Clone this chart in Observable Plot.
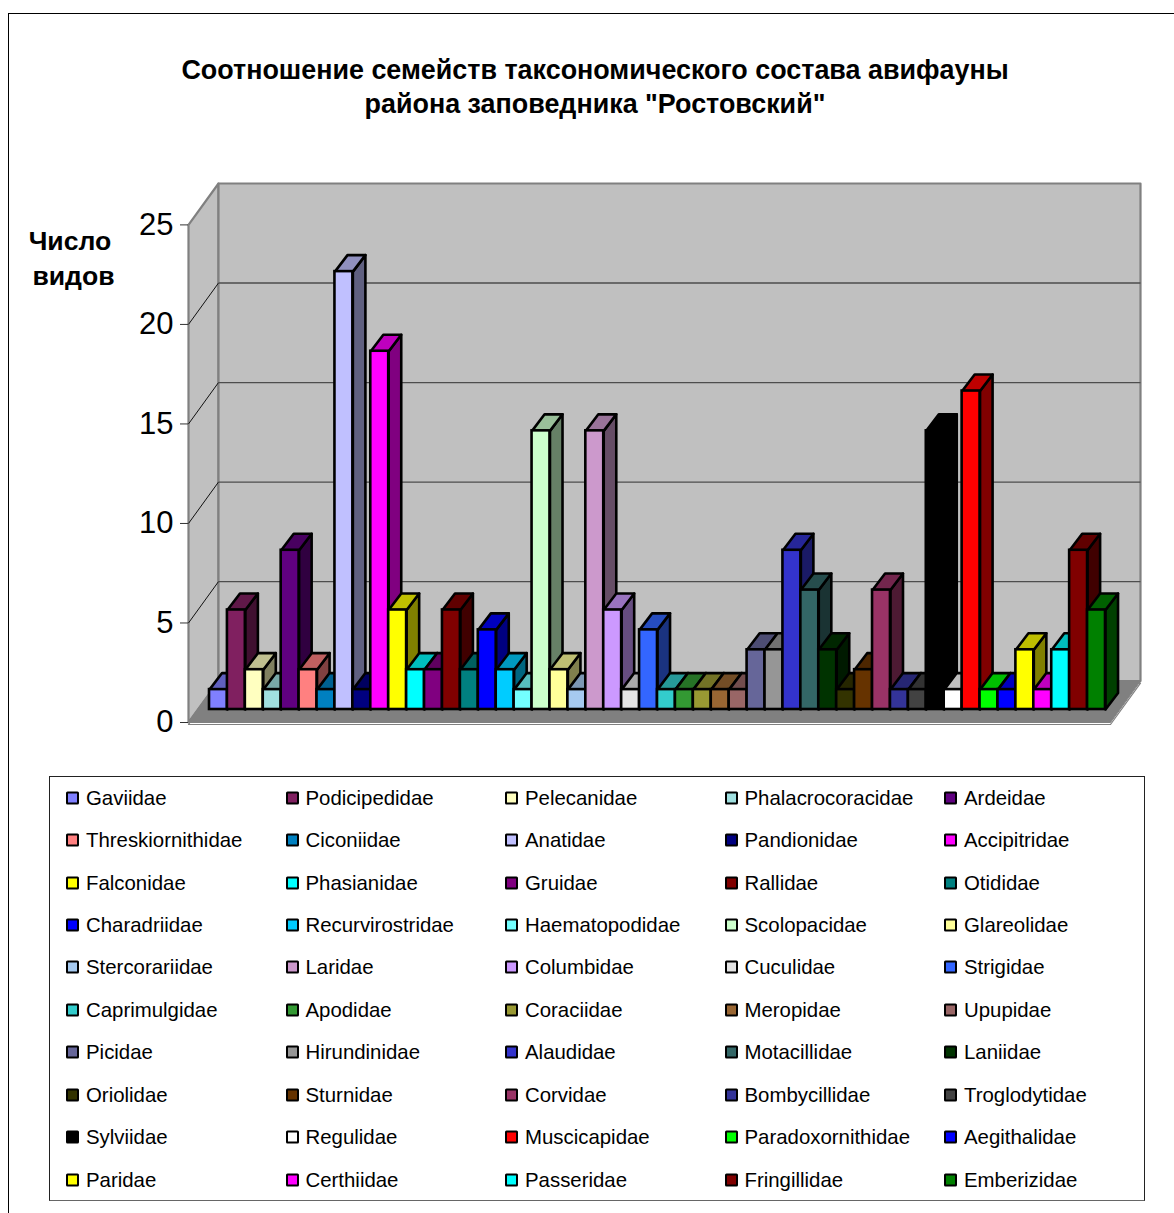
<!DOCTYPE html>
<html lang="ru">
<head>
<meta charset="utf-8">
<title>Авифауна заповедника Ростовский</title>
<script src="https://cdn.jsdelivr.net/npm/d3@7"></script>
<script src="https://cdn.jsdelivr.net/npm/@observablehq/plot@0.6"></script>
<style>
  html, body { margin: 0; padding: 0; background: #fff; overflow: hidden; }
  body { width: 1174px; height: 1213px; position: relative; font-family: "Liberation Sans", Arial, sans-serif; color: #000; }
  #frame { position: absolute; left: 8px; top: 13px; right: -4px; bottom: -4px; border: 1.5px solid #000; }
  #chart { position: absolute; left: 0; top: 0; }
  #title { position: absolute; left: 8px; width: 1174px; top: 53px; margin: 0; font-size: 26.9px; line-height: 34px; font-weight: bold; text-align: center; }
  #legend { position: absolute; left: 49px; top: 776px; width: 1094px; height: 423px; border: 1px solid #222; border-bottom-color: #666; border-bottom-width: 1.5px; box-sizing: content-box;
            display: grid; grid-template-columns: repeat(5, 219.5px); grid-auto-rows: 42.45px; padding: 0; }
  .item { display: flex; align-items: center; font-size: 20.4px; white-space: nowrap; padding-left: 16px; }
  .swatch { width: 9px; height: 9px; border: 2.4px solid #000; border-radius: 1.5px; margin-right: 7px; flex: none; transform: translateY(-0.5px); }
</style>
</head>
<body>
<div id="frame"></div>
<h1 id="title">Соотношение семейств таксономического состава авифауны<br>района заповедника "Ростовский"</h1>
<div id="chart"></div>
<div id="legend"></div>
<script>
// Bird families of the reserve area, in table order
const families = [
  "Gaviidae", "Podicipedidae", "Pelecanidae", "Phalacrocoracidae", "Ardeidae",
  "Threskiornithidae", "Ciconiidae", "Anatidae", "Pandionidae", "Accipitridae",
  "Falconidae", "Phasianidae", "Gruidae", "Rallidae", "Otididae",
  "Charadriidae", "Recurvirostridae", "Haematopodidae", "Scolopacidae", "Glareolidae",
  "Stercorariidae", "Laridae", "Columbidae", "Cuculidae", "Strigidae",
  "Caprimulgidae", "Apodidae", "Coraciidae", "Meropidae", "Upupidae",
  "Picidae", "Hirundinidae", "Alaudidae", "Motacillidae", "Laniidae",
  "Oriolidae", "Sturnidae", "Corvidae", "Bombycillidae", "Troglodytidae",
  "Sylviidae", "Regulidae", "Muscicapidae", "Paradoxornithidae", "Aegithalidae",
  "Paridae", "Certhiidae", "Passeridae", "Fringillidae", "Emberizidae"
];

// Number of species per family
const speciesCounts = [
  1, 5, 2, 1, 8,
  2, 1, 22, 1, 18,
  5, 2, 2, 5, 2,
  4, 2, 1, 14, 2,
  1, 14, 5, 1, 4,
  1, 1, 1, 1, 1,
  3, 3, 8, 6, 3,
  1, 2, 6, 1, 1,
  14, 1, 16, 1, 1,
  3, 1, 3, 8, 5
];

// Front-face colour of each family's column
const familyColors = [
  "#8080FF", "#802060", "#FFFFC0", "#A0E0E0", "#600080",
  "#FF8080", "#0080C0", "#C0C0FF", "#000080", "#FF00FF",
  "#FFFF00", "#00FFFF", "#800080", "#800000", "#008080",
  "#0000FF", "#00CCFF", "#73FFFF", "#CCFFCC", "#FFFF99",
  "#A6CAF0", "#CC99CC", "#CC99FF", "#E3E3E3", "#3366FF",
  "#33CCCC", "#339933", "#999933", "#996633", "#996666",
  "#666699", "#969696", "#3333CC", "#336666", "#003300",
  "#333300", "#663300", "#993366", "#333399", "#424242",
  "#000000", "#FFFFFF", "#FF0000", "#00FF00", "#0000FF",
  "#FFFF00", "#FF00FF", "#00FFFF", "#800000", "#008000"
];

const yTicks = [0, 5, 10, 15, 20, 25];

// Oblique projection, in data units: how far one column's depth and the
// whole floor's depth shift a point sideways (x) and upward (y).
const columnDepth = {x: 0.70, y: 0.83};
const floorDepth = {x: 1.674, y: 2.08};
// Front-left corner of the floor and right end of its front edge
const floorFront = {x0: -1.172, x1: 50.28, y: -0.653};

const shade = (color, k) => {
  const c = d3.rgb(color);
  return d3.rgb(c.r * k, c.g * k, c.b * k).formatHex();
};

const columns = families.map((family, i) => ({
  family, i, value: speciesCounts[i], color: familyColors[i]
}));

// Side and top faces of the columns as closed polygons
const faces = columns.flatMap(({i, value, color}) => {
  const {x: dx, y: dy} = columnDepth;
  const side = [[i + 1, 0], [i + 1 + dx, dy], [i + 1 + dx, value + dy], [i + 1, value]];
  const top = [[i, value], [i + dx, value + dy], [i + 1 + dx, value + dy], [i + 1, value]];
  return [
    ...side.map(([x, y]) => ({x, y, id: `${i}-side`, fill: shade(color, 0.5)})),
    ...top.map(([x, y]) => ({x, y, id: `${i}-top`, fill: shade(color, 0.75)}))
  ];
});

const {x0, x1, y: yFloor} = floorFront;
const backX0 = x0 + floorDepth.x;
const backX1 = x1 + floorDepth.x;
const backY = yFloor + floorDepth.y;
const yTop = 25 + backY;

const backWall = [[backX0, backY], [backX1, backY], [backX1, yTop], [backX0, yTop]];
const sideWall = [[x0, yFloor], [backX0, backY], [backX0, yTop], [x0, 25 + yFloor]];
const floor = [[x0, yFloor], [x1, yFloor], [backX1, backY], [backX0, backY]];
const toPoints = (poly) => poly.map(([x, y]) => ({x, y}));

const wallMark = (poly, fill, stroke, strokeWidth) =>
  Plot.line(toPoints(poly), {x: "x", y: "y", curve: "linear-closed", fill, stroke, strokeWidth});

const chart = Plot.plot({
  width: 1174,
  height: 760,
  marginLeft: 188,
  marginRight: 34,
  marginTop: 183,
  marginBottom: 38,
  style: {background: "none", fontFamily: "'Liberation Sans', Arial, sans-serif", overflow: "visible"},
  x: {type: "linear", domain: [x0, backX1], axis: null},
  y: {type: "linear", domain: [yFloor, yTop], axis: null},
  marks: [
    // Thin slab under the floor
    Plot.line(toPoints(floor), {x: "x", y: "y", curve: "linear-closed", fill: "#fff", stroke: "#808080", strokeWidth: 1.2, dy: 2}),
    wallMark(sideWall, "#C0C0C0", "#808080", 2.2),
    wallMark(backWall, "#C0C0C0", "#808080", 2.2),
    wallMark(floor, "#808080", "#808080", 1),
    // Gridlines along the side wall and across the back wall
    Plot.link(yTicks.slice(1, -1), {
      x1: x0, y1: (v) => v + yFloor,
      x2: backX0, y2: (v) => v + backY,
      stroke: "#111", strokeWidth: 1
    }),
    Plot.link(yTicks.slice(1, -1), {
      x1: backX0, y1: (v) => v + backY,
      x2: backX1, y2: (v) => v + backY,
      stroke: "#4d4d4d", strokeWidth: 1.3
    }),
    Plot.axisY({
      ticks: yTicks,
      tickFormat: (d) => d + "",
      tickSize: 8,
      tickPadding: 7,
      fontSize: 31,
      stroke: "#333",
      fill: "#000",
      dy: 13,
      label: null
    }),
    // Columns: receding faces first, front faces over them
    Plot.line(faces, {
      x: "x", y: "y", z: "id", fill: "fill",
      curve: "linear-closed", stroke: "#000", strokeWidth: 2.6
    }),
    Plot.rect(columns, {
      x1: "i",
      x2: (d) => d.i + 1,
      y1: 0,
      y2: "value",
      fill: "color",
      stroke: "#000",
      strokeWidth: 2.6
    }),
    // Vertical axis heading
    Plot.text(["Число"], {text: (d) => d, frameAnchor: "top-left", lineAnchor: "middle", dx: 69.5 - 188, dy: 241 - 183, fontSize: 26.6, fontWeight: "bold", textAnchor: "middle", fill: "#000"}),
    Plot.text(["видов"], {text: (d) => d, frameAnchor: "top-left", lineAnchor: "middle", dx: 73 - 188, dy: 276 - 183, fontSize: 26.6, fontWeight: "bold", textAnchor: "middle", fill: "#000"})
  ]
});

document.getElementById("chart").append(chart);

// Legend: five columns of family swatches
const legend = d3.select("#legend");
const items = legend.selectAll(".item").data(columns).join("div").attr("class", "item");
items.append("span").attr("class", "swatch").style("background", (d) => d.color);
items.append("span").text((d) => d.family);
</script>
</body>
</html>
